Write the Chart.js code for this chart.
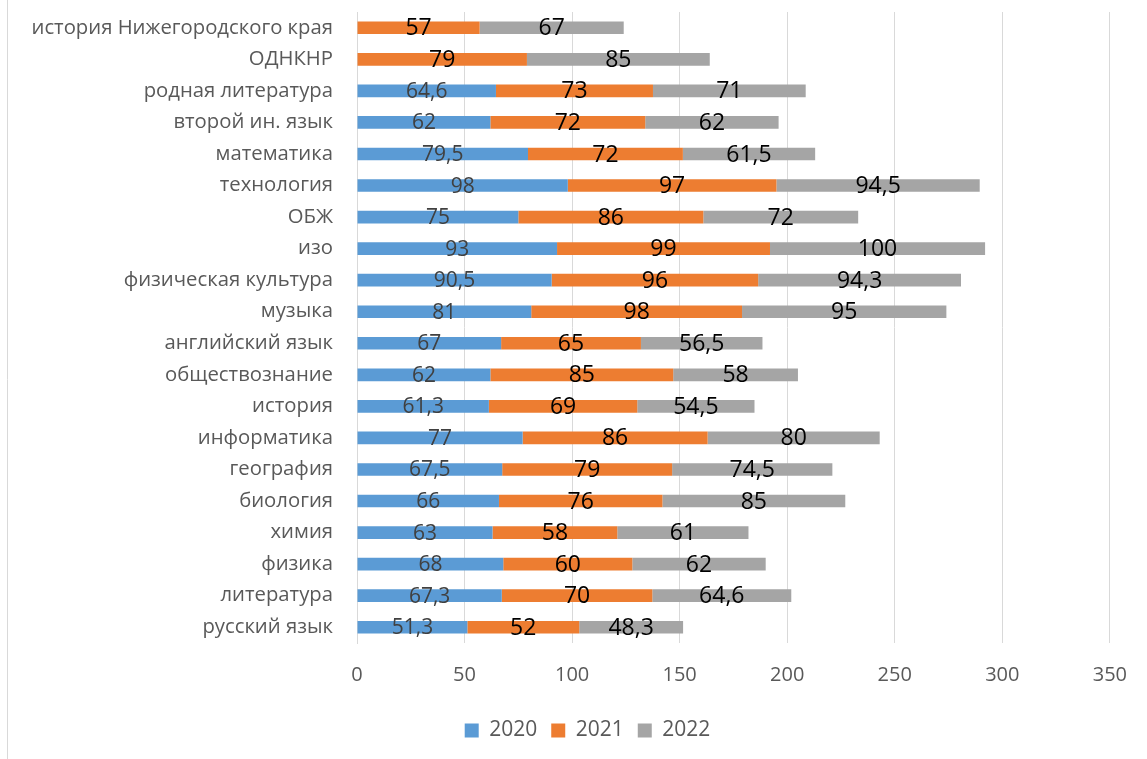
<!DOCTYPE html>
<html>
<head>
<meta charset="utf-8">
<script src="https://cdn.jsdelivr.net/npm/chart.js@4/dist/chart.umd.min.js"></script>
<style>
  html, body { margin: 0; padding: 0; background: #fff; }
  #wrap { width: 1147px; height: 759px; position: relative; }
</style>
</head>
<body>
<div id="wrap"><canvas id="chart"></canvas></div>
<script>
let subjects = [
  "история Нижегородского края",
  "ОДНКНР",
  "родная литература",
  "второй ин. язык",
  "математика",
  "технология",
  "ОБЖ",
  "изо",
  "физическая культура",
  "музыка",
  "английский язык",
  "обществознание",
  "история",
  "информатика",
  "география",
  "биология",
  "химия",
  "физика",
  "литература",
  "русский язык",
];

let values2020 = [null, null, 64.6, 62, 79.5, 98, 75, 93, 90.5, 81, 67, 62, 61.3, 77, 67.5, 66, 63, 68, 67.3, 51.3];
let values2021 = [57, 79, 73, 72, 72, 97, 86, 99, 96, 98, 65, 85, 69, 86, 79, 76, 58, 60, 70, 52];
let values2022 = [67, 85, 71, 62, 61.5, 94.5, 72, 100, 94.3, 95, 56.5, 58, 54.5, 80, 74.5, 85, 61, 62, 64.6, 48.3];

let xTicks = [0, 50, 100, 150, 200, 250, 300, 350];

const fontFamily = "'Open Sans', 'Noto Sans', sans-serif";

// value labels centred in each bar segment, comma as decimal mark
const barLabels = {
  id: "barLabels",
  afterDatasetsDraw(chart) {
    const ctx = chart.ctx;
    chart.data.datasets.forEach((ds, i) => {
      const meta = chart.getDatasetMeta(i);
      ctx.save();
      ctx.font = ds.labelFont;
      ctx.fillStyle = ds.labelColor;
      ctx.textAlign = "center";
      ctx.textBaseline = "middle";
      meta.data.forEach((bar, j) => {
        const v = ds.data[j];
        if (v === null || v === undefined) return;
        const cx = (bar.x + bar.base) / 2;
        ctx.fillText(String(v).replace(".", ","), cx, bar.y + 1);
      });
      ctx.restore();
    });
  },
};

// thin frame line on the left like the source picture
const frameLine = {
  id: "frameLine",
  beforeDraw(chart) {
    const ctx = chart.ctx;
    ctx.save();
    ctx.strokeStyle = "#d9d9d9";
    ctx.lineWidth = 1;
    ctx.beginPath();
    ctx.moveTo(7.5, 0);
    ctx.lineTo(7.5, 759);
    ctx.stroke();
    ctx.restore();
  },
};

// the legend sits a bit right of the canvas centre in the source
const legendShift = {
  id: "legendShift",
  afterLayout(chart) {
    if (chart.legend) {
      chart.legend.left += 25;
      chart.legend.right += 25;
      chart.legend.top += 3;
      chart.legend.bottom += 3;
    }
  },
};

let ctx = document.getElementById("chart").getContext("2d");

let chart = new Chart(ctx, {
  type: "bar",
  data: {
    labels: subjects,
    datasets: [
      {
        label: "2020",
        data: values2020,
        backgroundColor: "#5B9BD5",
        labelFont: "21px " + fontFamily,
        labelColor: "#404040",
      },
      {
        label: "2021",
        data: values2021,
        backgroundColor: "#ED7D31",
        labelFont: "23px " + fontFamily,
        labelColor: "#000000",
      },
      {
        label: "2022",
        data: values2022,
        backgroundColor: "#A5A5A5",
        labelFont: "23px " + fontFamily,
        labelColor: "#000000",
      },
    ],
  },
  options: {
    indexAxis: "y",
    responsive: true,
    maintainAspectRatio: false,
    animation: false,
    layout: {
      padding: { left: 10, right: 32, top: 12, bottom: 11 },
    },
    datasets: {
      bar: {
        categoryPercentage: 0.8,
        barPercentage: 0.5,
      },
    },
    scales: {
      x: {
        stacked: true,
        min: 0,
        max: 350,
        afterBuildTicks(scale) {
          scale.ticks = xTicks.map((v) => ({ value: v }));
        },
        afterFit(scale) {
          scale.height = 60;
        },
        grid: {
          color: "#d9d9d9",
          drawTicks: false,
        },
        border: { display: false },
        ticks: {
          color: "#595959",
          padding: 20,
          font: { family: fontFamily, size: 20 },
        },
      },
      y: {
        stacked: true,
        afterFit(scale) {
          scale.width = 347;
          scale.paddingTop = 0;
          scale.paddingBottom = 0;
        },
        grid: { display: false },
        border: { display: true, color: "#d9d9d9" },
        ticks: {
          color: "#595959",
          padding: 16,
          autoSkip: false,
          font: { family: fontFamily, size: 20.3 },
        },
      },
    },
    plugins: {
      legend: {
        position: "bottom",
        labels: {
          boxWidth: 14,
          boxHeight: 14,
          padding: 14,
          color: "#595959",
          font: { family: fontFamily, size: 21 },
        },
      },
      tooltip: { enabled: false },
    },
  },
  plugins: [barLabels, frameLine, legendShift],
});
</script>
</body>
</html>
